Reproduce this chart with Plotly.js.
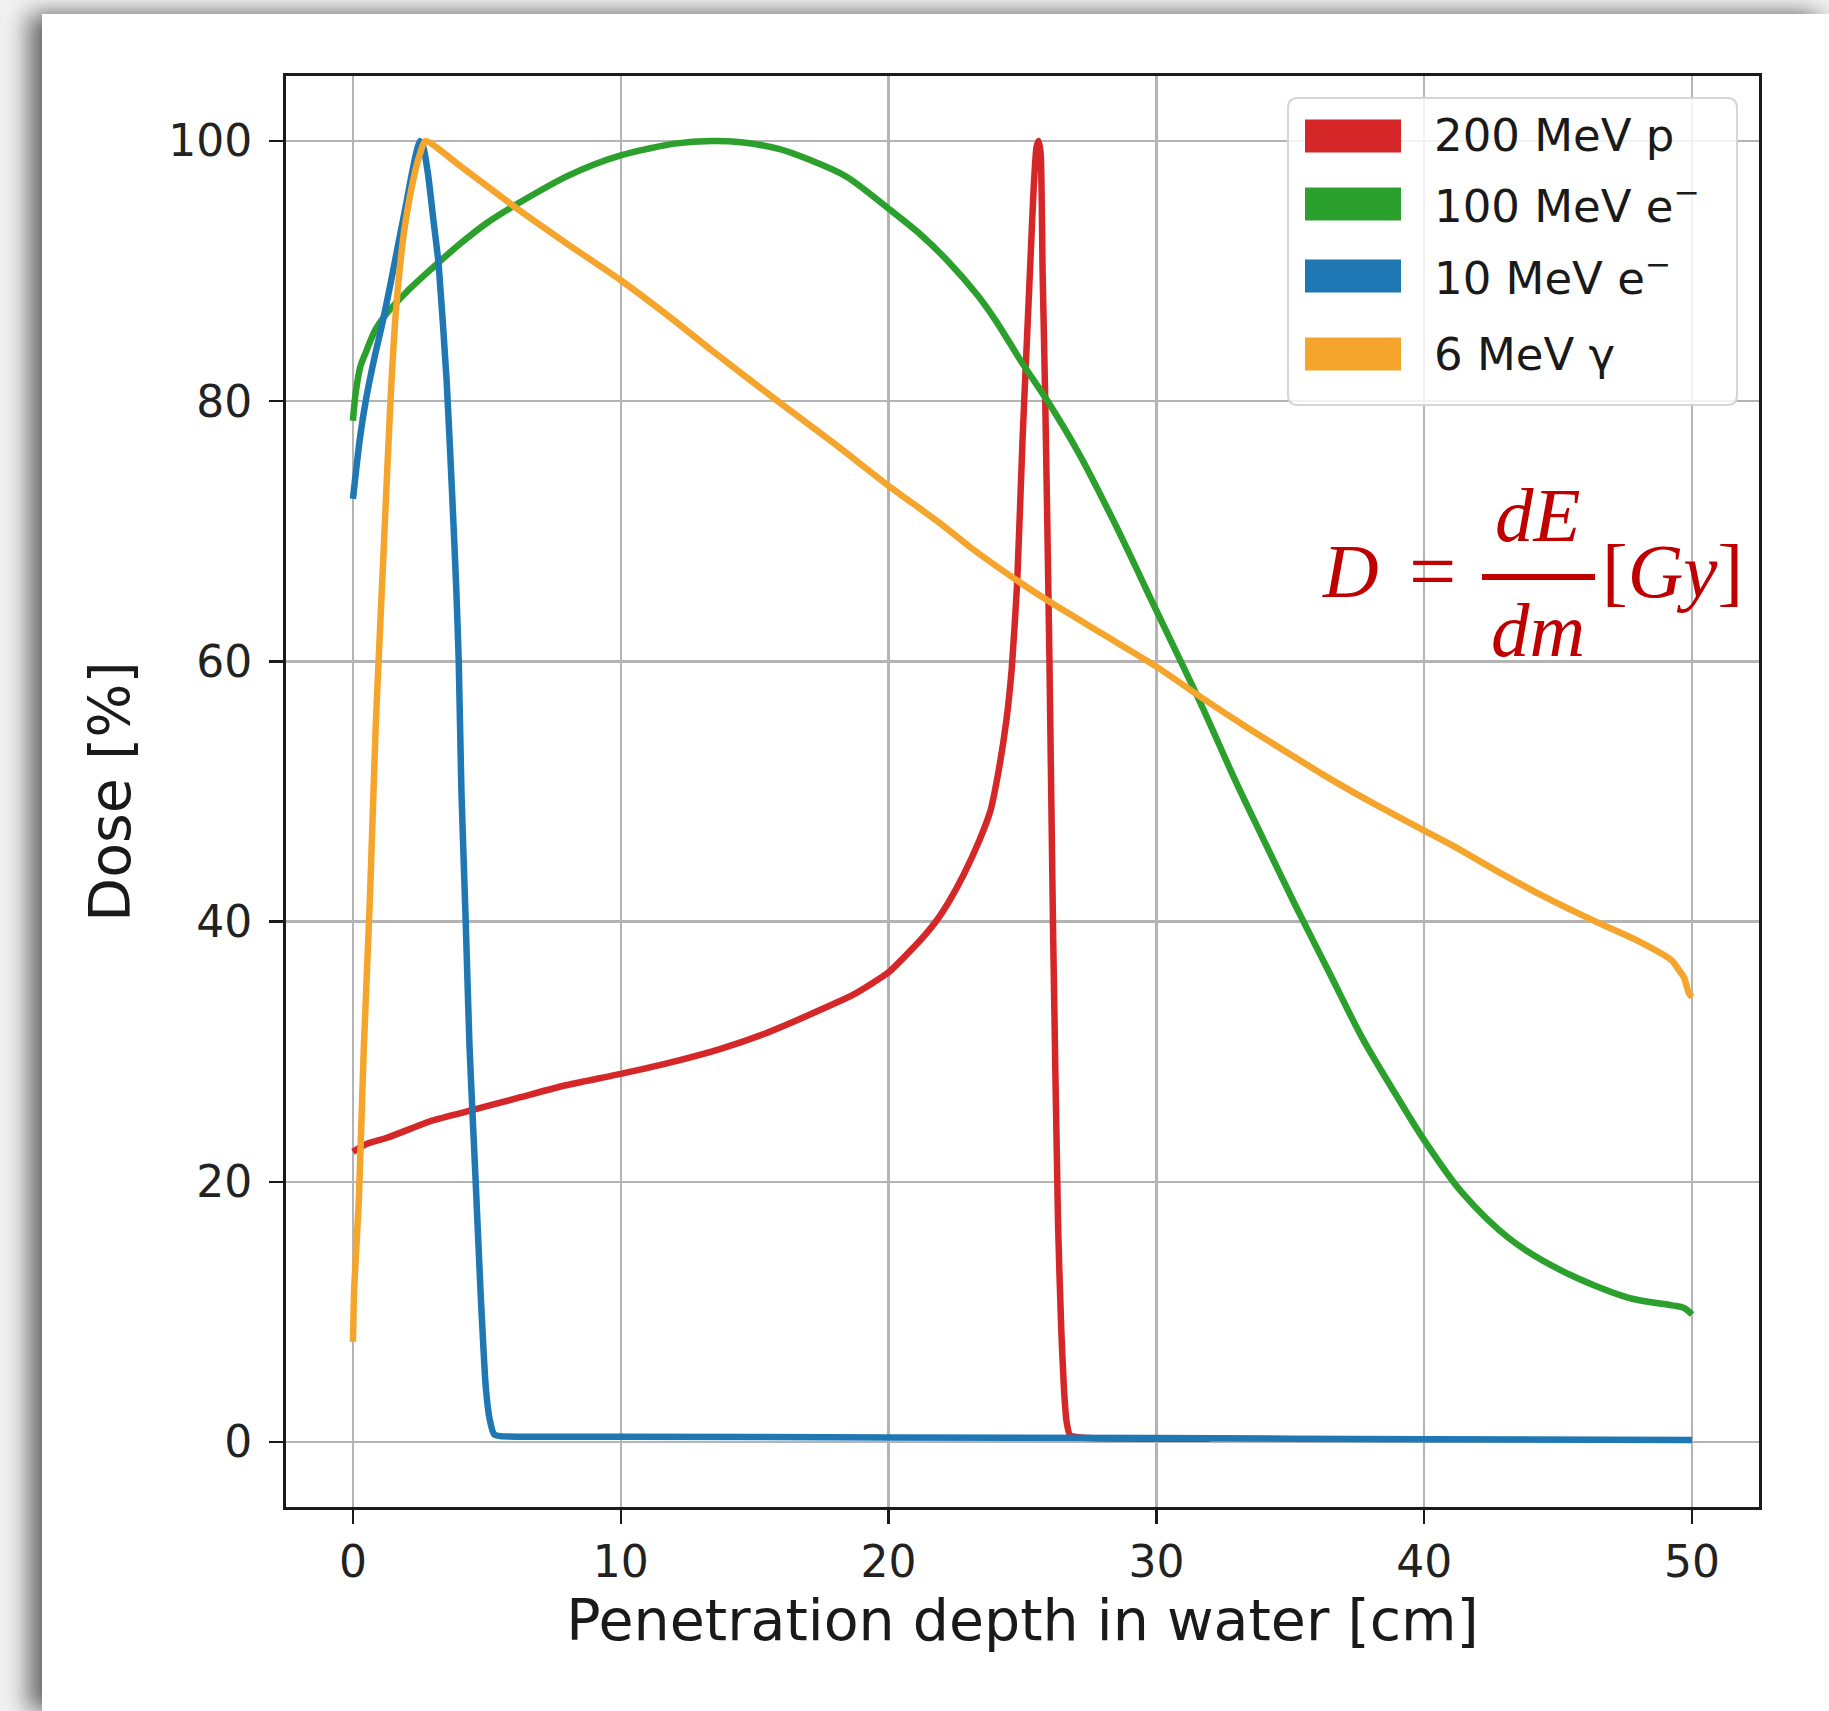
<!DOCTYPE html>
<html>
<head>
<meta charset="utf-8">
<script src="https://cdn.plot.ly/plotly-3.0.1.min.js"></script>
<style>
  html, body { margin: 0; padding: 0; width: 1829px; height: 1711px; overflow: hidden; background: #f1f1f1; }
  #card { position: absolute; left: 42px; top: 14px; right: 0; bottom: 0; background: #ffffff;
          box-shadow: -14px 0 22px rgba(0,0,0,0.55), 0 -5px 10px rgba(0,0,0,0.06); }
  #chart { position: absolute; left: 0; top: 0; width: 1829px; height: 1711px; }
</style>
</head>
<body>
<div id="card"></div>
<div id="chart"></div>
<script>
// ---- data ----
const seriesNames = ["200 MeV p", "100 MeV e<sup>−</sup>", "10 MeV e<sup>−</sup>", "6 MeV γ"];

const protonX = [0, 0.5, 1.3, 2.95, 4.44, 6.26, 7.9, 10, 12.1, 13.7, 15.4, 17, 18.7, 20, 21.2, 21.8, 22.3, 22.8, 23.4, 23.8, 24.1, 24.4, 24.6, 24.8, 25.0, 25.15, 25.3, 25.42, 25.52, 25.6, 25.68, 25.75, 25.85, 26.0, 26.14, 26.33, 26.45, 26.55, 26.65, 26.78, 27.5, 32];
const protonY = [22.3, 22.9, 23.4, 24.7, 25.5, 26.5, 27.4, 28.3, 29.3, 30.2, 31.4, 32.8, 34.4, 36.1, 38.6, 40.1, 41.7, 43.6, 46.3, 48.5, 51.5, 55.5, 59.5, 66, 77, 84, 91, 96.5, 99.5, 100, 99, 90, 80, 61, 39.5, 16.5, 8.5, 4, 1.5, 0.5, 0.3, 0.25];

const e100X = [0, 0.1, 0.28, 0.47, 0.84, 1.28, 2.0, 3.0, 4.0, 5.0, 6.0, 7.0, 8.0, 9.0, 10, 11, 12, 13.4, 14.5, 15.9, 17, 18.4, 20, 21.2, 22.2, 23.3, 24, 25, 26, 27.1, 28.4, 30, 31.6, 33, 34, 35.2, 36.5, 37.7, 39, 40, 41.4, 43.2, 45.2, 47.6, 49.25, 49.7, 50];
const e100Y = [78.5, 80.6, 82.7, 83.7, 85.5, 86.8, 88.4, 90.3, 92.1, 93.7, 95.0, 96.2, 97.3, 98.2, 98.9, 99.4, 99.8, 100, 99.9, 99.4, 98.6, 97.3, 94.8, 92.8, 90.8, 88.2, 86.2, 82.9, 79.8, 76.0, 70.8, 63.9, 57.0, 50.6, 46.3, 41.2, 35.9, 31.0, 26.5, 23.2, 19.2, 15.6, 13.1, 11.1, 10.5, 10.3, 9.8];

const e10X = [0, 0.25, 0.5, 0.84, 1.1, 1.4, 1.77, 2.0, 2.2, 2.4, 2.5, 2.62, 2.8, 3.0, 3.2, 3.5, 3.7, 3.85, 3.95, 4.05, 4.21, 4.35, 4.46, 4.58, 4.77, 4.96, 5.1, 5.27, 5.5, 10, 20, 30, 40, 50];
const e10Y = [72.5, 77, 80.3, 83.7, 86, 89, 92.9, 95.3, 97.5, 99.4, 100, 99.6, 97.5, 94, 90.5, 81.5, 73, 66, 60, 50, 40, 30.5, 25.4, 20.1, 11.3, 4.2, 1.8, 0.6, 0.45, 0.4, 0.35, 0.3, 0.2, 0.15];

const gammaX = [0, 0.05, 0.22, 0.4, 0.63, 0.85, 1.0, 1.15, 1.4, 1.6, 1.9, 2.27, 2.5, 2.7, 4, 6, 8, 10, 12, 13.4, 15.8, 18, 20, 22, 23.1, 24.6, 26, 28, 30, 31.7, 33.4, 35.2, 36.3, 38, 40, 41.1, 42.7, 44.5, 46.4, 48, 49.25, 49.5, 49.7, 49.88, 50];
const gammaY = [7.7, 12, 18.6, 30, 41.6, 55, 62, 68.7, 80, 86.8, 92.9, 97.2, 99, 100, 98.1, 95, 92.1, 89.3, 86.2, 83.9, 80.1, 76.7, 73.5, 70.5, 68.7, 66.5, 64.6, 62.1, 59.6, 57.2, 54.9, 52.6, 51.2, 49.2, 47.0, 45.8, 43.9, 41.9, 40.0, 38.5, 37.0, 36.3, 35.7, 34.5, 34.2];

const xTicks = [0, 10, 20, 30, 40, 50];
const yTicks = [0, 20, 40, 60, 80, 100];
const xTitle = "Penetration depth in water [cm]";
const yTitle = "Dose [%]";

// ---- styling ----
const colors = ["#d62728", "#2ca02c", "#1f77b4", "#f5a52c"];
const L = 286, R = 1759, T = 76, B = 1507;
const W = R - L, H = B - T;
const px = x => (x - L) / W;
const py = y => (B - y) / H;

const lw = 6.5;
const mk = (x, y, i, sm) => ({x: x, y: y, name: seriesNames[i], mode: "lines",
  line: {color: colors[i], width: lw, shape: "spline", smoothing: sm}});
const traces = [
  mk(protonX, protonY, 0, 0.5),
  mk(e100X, e100Y, 1, 0.9),
  mk(e10X, e10Y, 2, 0.5),
  mk(gammaX, gammaY, 3, 0.6)
];

const font = "DejaVu Sans, sans-serif";
const axisCommon = {
  showline: true, mirror: true, linecolor: "#1a1a1a", linewidth: 3,
  ticks: "outside", ticklen: 14, tickwidth: 2.5, tickcolor: "#1a1a1a",
  showgrid: true, gridcolor: "#b4b4b4", gridwidth: 2.5, zeroline: false,
  tickfont: {family: font, size: 44, color: "#222"}
};

// legend built manually (matplotlib-style patch legend)
const shapes = [];
const annotations = [];
(function(){
  const x0 = 1288, x1 = 1737, y0 = 98, y1 = 405, r = 10;
  const X = v => px(v), Y = v => py(v);
  const p = `M ${X(x0+r)},${Y(y0)} L ${X(x1-r)},${Y(y0)} Q ${X(x1)},${Y(y0)} ${X(x1)},${Y(y0+r)} ` +
            `L ${X(x1)},${Y(y1-r)} Q ${X(x1)},${Y(y1)} ${X(x1-r)},${Y(y1)} ` +
            `L ${X(x0+r)},${Y(y1)} Q ${X(x0)},${Y(y1)} ${X(x0)},${Y(y1-r)} ` +
            `L ${X(x0)},${Y(y0+r)} Q ${X(x0)},${Y(y0)} ${X(x0+r)},${Y(y0)} Z`;
  shapes.push({type: "path", xref: "paper", yref: "paper", path: p,
               fillcolor: "rgba(255,255,255,0.82)", line: {color: "#d6d6d6", width: 2}, layer: "above"});
})();
const rowCenters = [136, 204, 276, 354];
seriesNames.forEach((name, i) => {
  const c = rowCenters[i];
  shapes.push({type: "rect", xref: "paper", yref: "paper",
               x0: px(1305), x1: px(1401), y0: py(c - 16.5), y1: py(c + 16.5),
               fillcolor: colors[i], line: {width: 0}, layer: "above"});
  annotations.push({xref: "paper", yref: "paper", x: px(1433), y: py(c), xanchor: "left", yanchor: "middle",
                    text: name, showarrow: false, borderpad: 0,
                    font: {family: font, size: 45, color: "#1a1a1a"}});
});

// equation D = dE/dm [Gy]
const eqColor = "#c00000";
const eqFont = {family: "Liberation Serif, Times New Roman, serif", size: 77, color: eqColor};
annotations.push({xref: "paper", yref: "paper", x: px(1321), y: py(571), xanchor: "left", yanchor: "middle",
                  text: "<i>D</i>", showarrow: false, borderpad: 0, font: eqFont});
annotations.push({xref: "paper", yref: "paper", x: px(1432), y: py(571), xanchor: "center", yanchor: "middle",
                  text: "=", showarrow: false, borderpad: 0,
                  font: {family: eqFont.family, size: 84, color: eqColor}});
annotations.push({xref: "paper", yref: "paper", x: px(1538), y: py(515), xanchor: "center", yanchor: "middle",
                  text: "<i>dE</i>", showarrow: false, borderpad: 0, font: eqFont});
annotations.push({xref: "paper", yref: "paper", x: px(1538), y: py(630), xanchor: "center", yanchor: "middle",
                  text: "<i>dm</i>", showarrow: false, borderpad: 0, font: eqFont});
annotations.push({xref: "paper", yref: "paper", x: px(1601), y: py(571), xanchor: "left", yanchor: "middle",
                  text: "[<i>Gy</i>]", showarrow: false, borderpad: 0, font: eqFont});
shapes.push({type: "line", xref: "paper", yref: "paper", x0: px(1482), x1: px(1595), y0: py(577), y1: py(577),
             line: {color: eqColor, width: 6}, layer: "above"});

const layout = {
  width: 1829, height: 1711,
  margin: {l: L, r: 1829 - R, t: T, b: 1711 - B, pad: 0},
  paper_bgcolor: "rgba(0,0,0,0)", plot_bgcolor: "#ffffff",
  showlegend: false,
  font: {family: font, color: "#1a1a1a"},
  xaxis: Object.assign({}, axisCommon, {
    range: [-2.5, 52.5], tickvals: xTicks, ticktext: xTicks.map(String),
    ticklabelstandoff: 0,
    title: {text: xTitle, font: {family: font, size: 57, color: "#1a1a1a"}, standoff: 12}
  }),
  yaxis: Object.assign({}, axisCommon, {
    range: [-5, 105], tickvals: yTicks, ticktext: yTicks.map(String),
    ticklabelstandoff: 8,
    title: {text: yTitle, font: {family: font, size: 57, color: "#1a1a1a"}, standoff: 20}
  }),
  shapes: shapes,
  annotations: annotations
};

Plotly.newPlot("chart", traces, layout, {displayModeBar: false, staticPlot: true});
</script>
</body>
</html>
